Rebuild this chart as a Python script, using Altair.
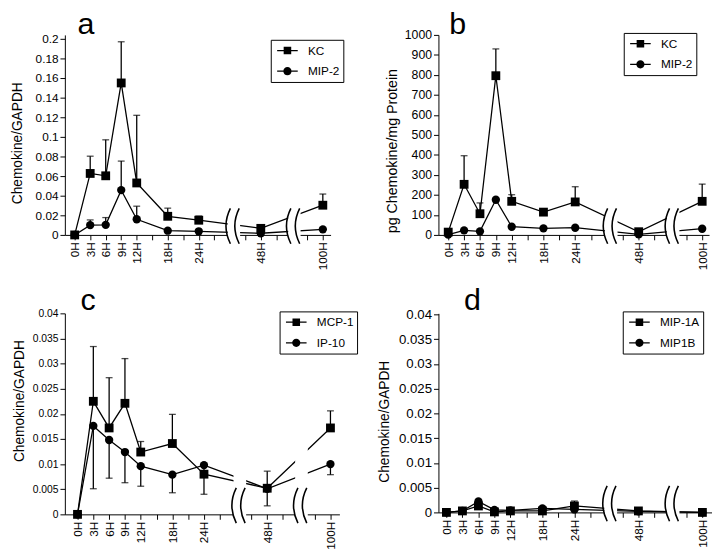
import altair as alt
import pandas as pd

FONT = "Liberation Sans"

hours = ["0H", "3H", "6H", "9H", "12H", "18H", "24H", "48H", "100H"]
hour_pos = [0, 3, 6, 9, 12, 18, 24, 36, 48]   # place of each time point on the broken axis
minor_ticks = [0, 3, 6, 9, 12, 15, 18, 21, 24, 27, 30, 33, 36, 39, 42, 45, 48]
break_pos = [30.8, 42.5]
letters = ["a", "b", "c", "d"]

# ---- panel a : Chemokine/GAPDH (KC, MIP-2)
a_series = ["KC", "MIP-2"]
a_kc = [0, 0.0627, 0.0603, 0.155, 0.053, 0.019, 0.015, 0.0067, 0.0303]
a_kc_hi = [None, 0.0803, 0.097, 0.197, 0.122, 0.0273, 0.0193, None, 0.0417]
a_mip2 = [0, 0.010, 0.0103, 0.0457, 0.016, 0.0043, 0.0037, 0.0017, 0.0057]
a_mip2_hi = [None, 0.0153, 0.0177, 0.0753, 0.0293, None, None, None, None]

# ---- panel b : pg Chemokine/mg Protein (KC, MIP-2)
b_series = ["KC", "MIP-2"]
b_kc = [14, 253, 106, 796, 168, 114, 165, 16, 168]
b_kc_hi = [None, 396, 160, 930, 201, None, 241, None, 254]
b_mip2 = [2, 23, 18, 176, 41, 33, 36, 3, 31]

# ---- panel c : Chemokine/GAPDH (MCP-1, IP-10)
c_series = ["MCP-1", "IP-10"]
c_mcp1 = [0, 0.0225, 0.0172, 0.0221, 0.0124, 0.0141, 0.0080, 0.0052, 0.0172]
c_mcp1_hi = [None, 0.0334, 0.0272, 0.031, 0.0145, 0.0199, None, 0.0086, 0.0206]
c_mcp1_lo = [None, None, None, None, None, None, None, 0.0017, None]
c_ip10 = [0, 0.0176, 0.0148, 0.0124, 0.0096, 0.0079, 0.0098, 0.0051, 0.0100]
c_ip10_lo = [None, 0.0051, 0.0072, 0.0063, 0.0056, 0.0043, 0.0040, None, 0.0079]

# ---- panel d : Chemokine/GAPDH (MIP-1A, MIP1B)
d_series = ["MIP-1A", "MIP1B"]
d_mip1a = [0, 0.0003, 0.0013, 0.0001, 0.0003, 0.0003, 0.0013, 0.0003, 0]
d_mip1a_hi = [None, None, None, None, None, None, 0.0023, None, None]
d_mip1b = [0, 0.0003, 0.0022, 0.0005, 0.0004, 0.0008, 0.0006, 0.0002, 0]

a_ticks = [0, 0.02, 0.04, 0.06, 0.08, 0.1, 0.12, 0.14, 0.16, 0.18, 0.2]
b_ticks = [0, 100, 200, 300, 400, 500, 600, 700, 800, 900, 1000]
cd_ticks = [0, 0.005, 0.01, 0.015, 0.02, 0.025, 0.03, 0.035, 0.04]

# legend symbols: a short line (thin filled bar) with a filled square / circle on it
SQ = "M-1.5,-0.09H1.5V0.09H-1.5Z M-0.55,-0.55H0.55V0.55H-0.55Z"
CI = "M-1.5,-0.09H1.5V0.09H-1.5Z M-0.6,0A0.6,0.6 0 1,1 0.6,0A0.6,0.6 0 1,1 -0.6,0Z"
# axis-break symbol: two arcs "(("
BRK = "M-0.2,-1Q-0.7,0 -0.2,1M0.3,-1Q-0.2,0 0.3,1"

label_map = "{" + ",".join(f"'{p}':'{h}'" for p, h in zip(hour_pos, hours)) + "}"
label_expr = f"{label_map}[datum.value] || ''"
NBSP2 = "\u00a0\u00a0"


def panel(letter, names, vals, his, los, ymax, yticks, yfmt, ytitle,
          width, height, xdom, lx, ly, tdx, toff, lab_fs, title_fs, title_y, title_pad):
    pts, err = [], []
    for s, v, hi, lo in zip(names, vals, his, los):
        for j, p in enumerate(hour_pos):
            pts.append({"pos": p, "hour": hours[j], "series": s, "value": v[j]})
            if hi and hi[j] is not None:
                err.append({"pos": p, "series": s, "y0": v[j], "y1": hi[j]})
            if lo and lo[j] is not None:
                err.append({"pos": p, "series": s, "y0": v[j], "y1": lo[j]})
    pts = pd.DataFrame(pts)
    err = pd.DataFrame(err if err else [{"pos": 0, "series": names[0], "y0": 0, "y1": 0}])
    brk = pd.DataFrame({"b": break_pos,
                        "b0": [b - 1.2 for b in break_pos],
                        "b1": [b + 1.2 for b in break_pos]})

    xscale = alt.Scale(domain=xdom, nice=False, zero=False)
    yscale = alt.Scale(domain=[0, ymax], nice=False, zero=True)
    xaxis = alt.Axis(values=minor_ticks, labelExpr=label_expr, labelAngle=-90,
                     labelFont=FONT, labelFontSize=12, labelColor="black",
                     tickColor="black", domainColor="black", tickSize=5,
                     labelPadding=2, title=None, grid=False, labelOverlap=False,
                     labelBaseline="middle")
    yaxis = alt.Axis(values=yticks, format=yfmt, labelFont=FONT, labelFontSize=lab_fs,
                     labelColor="black", tickColor="black", domainColor="black",
                     tickSize=5, labelPadding=2, title=ytitle, titleFont=FONT,
                     titleFontSize=title_fs, titleFontWeight="normal", titleColor="black",
                     titleY=title_y, titlePadding=title_pad, grid=False)

    def X(f):
        return alt.X(f"{f}:Q", scale=xscale, axis=xaxis)

    def Y(f):
        return alt.Y(f"{f}:Q", scale=yscale, axis=yaxis)

    line = alt.Chart(pts).mark_line(color="black", strokeWidth=1.3).encode(
        x=X("pos"), y=Y("value"), detail="series:N")
    rules = alt.Chart(err).mark_rule(color="black", strokeWidth=1.3).encode(
        x=X("pos"), y=Y("y0"), y2="y1:Q")
    caps = alt.Chart(err).transform_filter("datum.y1 != datum.y0").mark_tick(
        orient="horizontal", color="black", size=7, thickness=1.3).encode(
        x=X("pos"), y=Y("y1"))
    mask = alt.Chart(brk).mark_rect(color="white").encode(
        x=X("b0"), x2="b1:Q", y=alt.value(height * 0.4), y2=alt.value(height + 7))
    brk_marks = alt.Chart(brk).mark_point(
        shape=BRK, filled=False, size=1296, color="black", strokeWidth=1.6, opacity=1).encode(
        x=X("b"), y=alt.value(height - 9))
    sq = alt.Chart(pts).transform_filter(f"datum.series == '{names[0]}'").mark_point(
        shape="square", filled=True, size=81, color="black", opacity=1).encode(
        x=X("pos"), y=Y("value"))
    ci = alt.Chart(pts).transform_filter(f"datum.series == '{names[1]}'").mark_point(
        shape="circle", filled=True, size=72, color="black", opacity=1).encode(
        x=X("pos"), y=Y("value"))
    leg = alt.Chart(pts).transform_filter("false").mark_point(
        filled=True, color="black", size=196).encode(
        shape=alt.Shape("series:N", scale=alt.Scale(domain=names, range=[SQ, CI]),
                        legend=alt.Legend(orient="none", legendX=lx, legendY=ly, title=None,
                                          strokeColor="black", padding=3, rowPadding=6,
                                          symbolOffset=6, labelOffset=13,
                                          labelExpr=f"datum.label + '{NBSP2}'",
                                          labelFont=FONT, labelFontSize=12,
                                          labelColor="black", symbolSize=196,
                                          symbolFillColor="black", symbolOpacity=1)))
    letter_mark = alt.Chart(pd.DataFrame({"t": [letter]})).mark_text(
        align="left", baseline="alphabetic", fontSize=31, font=FONT, color="black").encode(
        text="t:N", x=alt.value(tdx), y=alt.value(-toff))
    return alt.layer(line, rules, caps, mask, brk_marks, sq, ci, leg, letter_mark).properties(
        width=width, height=height)


pa = panel(letters[0], a_series, [a_kc, a_mip2], [a_kc_hi, a_mip2_hi], [None, None], 0.204,
           a_ticks, ".3~f", "Chemokine/GAPDH", 271, 204, [-1.9, 49.5], 210, 5, 13, 1,
           12, 14, 110, 11)
pb = panel(letters[1], b_series, [b_kc, b_mip2], [b_kc_hi, None], [None, None], 1000,
           b_ticks, "d", "pg Chemokine/mg Protein", 276, 204, [-1.85, 49.3], 189, -2, 11, 1,
           12.5, 14.5, 118, 5)
pc = panel(letters[2], c_series, [c_mcp1, c_ip10], [c_mcp1_hi, None], [c_mcp1_lo, c_ip10_lo], 0.04,
           cd_ticks, ".3~f", "Chemokine/GAPDH", 280, 205, [-2.4, 49.7], 219, -2, 16, 3,
           10.5, 14, 89, 6)
pd_ = panel(letters[3], d_series, [d_mip1a, d_mip1b], [d_mip1a_hi, None], [None, None], 0.0402,
            cd_ticks, ".3~f", "Chemokine/GAPDH", 279, 203, [-1.5, 49.8], 188, -2, 26, 3,
            13.5, 14, 110, 7)

top = alt.hconcat(pa, pb, spacing=41).resolve_scale(shape="independent")
bottom = alt.hconcat(pc, pd_, spacing=20).resolve_scale(shape="independent")
chart = alt.vconcat(top, bottom, spacing=16).resolve_scale(shape="independent").properties(
    padding={"left": 2, "top": -4, "right": 0, "bottom": 0},
    background="white",
).configure_view(stroke=None)

chart.save("out.html", embed_options={"renderer": "svg", "actions": False})
